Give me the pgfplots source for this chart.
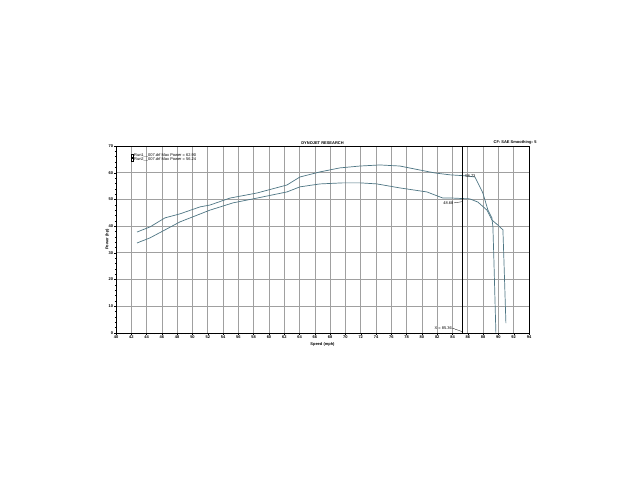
\documentclass[border=0pt]{standalone}
\usepackage{fontspec}
\setmainfont{Liberation Sans}
\usepackage{pgfplots}
\pgfplotsset{compat=1.18}
\definecolor{curve}{RGB}{78,118,132}
\definecolor{gridc}{RGB}{160,160,160}
\newcommand{\tinyfont}{\fontsize{4}{4.6}\selectfont}
\begin{document}
\begin{tikzpicture}[x=1bp,y=1bp]
\fill[white] (0,0) rectangle (640,480);
\useasboundingbox (0,0) rectangle (640,480);
\begin{axis}[
    at={(116bp,147bp)}, anchor=south west,
    scale only axis, width=413bp, height=187bp,
    xmin=40, xmax=94, ymin=0, ymax=70,
    xtick={40,42,...,94}, ytick={0,10,...,70},
    xtick pos=bottom, ytick pos=left,
    minor x tick num=3, minor y tick num=4,
    grid=major, major grid style={gridc, line width=0.7bp},
    axis line style={black, line width=0.8bp},
    tick style={black, line width=0.4bp},
    major tick length=2bp, minor tick length=1.2bp,
    tick align=outside,
    ticklabel style={font=\tinyfont\bfseries, inner sep=0.8bp},
    /pgf/number format/assume math mode=true,
    xlabel={Speed (mph)}, ylabel={Power (hp)},
    label style={font=\tinyfont\bfseries},
    xlabel style={at={(rel axis cs:0.5,0)}, anchor=north, yshift=-6.5bp},
    ylabel style={yshift=-5bp},
    title={DYNOJET RESEARCH},
    title style={font=\tinyfont\bfseries, yshift=-8bp},
    legend style={at={(rel axis cs:0.035,0.965)}, anchor=north west,
        draw=none, fill=none, font=\tinyfont, inner sep=0pt,
        row sep=-1.2bp, nodes={inner sep=0.6bp}},
    legend cell align=left,
    legend image code/.code={\draw[black,line width=0.3bp,fill=white] (0bp,-1.3bp) rectangle (2.6bp,1.3bp);},
    clip=false,
]
% upper run
\addplot[curve, line width=0.7bp] coordinates {
(42.75,37.8) (44.44,39.7) (46.41,43.1) (48.37,44.6) (50.98,47.2)
(52.29,47.9) (54.90,50.5) (58.43,52.4) (62.35,55.4) (64.05,58.4)
(66.67,60.3) (69.28,61.8) (71.90,62.5) (74.51,62.9) (77.12,62.5)
(79.74,61.0) (81.70,59.9) (83.66,59.2) (85.88,58.8) (86.93,58.4)
(87.97,52.4) (88.63,46.0) (89.15,43.1) (89.28,39.7) (89.41,27.3)
(89.67,0)};
\addlegendentry{Run1\_\_007.drf Max Power = 62.90}
% lower run
\addplot[curve, line width=0.7bp] coordinates {
(42.75,33.7) (44.44,35.6) (46.41,38.6) (48.37,41.6) (52.29,46.0)
(55.29,48.7) (58.43,50.5) (62.35,52.8) (64.05,54.7) (66.67,55.8)
(69.67,56.2) (71.90,56.2) (74.12,55.8) (77.12,54.3) (80.65,52.8)
(82.75,50.5) (84.05,50.5) (86.27,50.2) (87.32,49.0) (88.50,46.0)
(89.15,42.3) (89.93,40.4) (90.59,38.6) (90.72,27.3) (90.98,3.7)};
\addlegendentry{Run2\_\_007.drf Max Power = 56.24}
% cursor
\addplot[black, line width=1.1bp, forget plot] coordinates {(85.36,0) (85.36,70)};
\node[font=\tinyfont, anchor=west, inner sep=0.5bp] at (axis cs:85.6,58.8) {58.73};
\node[font=\tinyfont, anchor=east, inner sep=0.5bp] at (axis cs:84.2,48.7) {48.68};
\draw[black, line width=0.3bp] (axis cs:84.2,48.7) -- (axis cs:85.36,49.2);
\node[font=\tinyfont, anchor=east, inner sep=0.5bp] at (axis cs:84.0,1.8) {X = 85.36};
\draw[black, line width=0.3bp] (axis cs:84.0,1.8) -- (axis cs:85.36,0.4);
\node[font=\tinyfont\bfseries, anchor=south east, inner sep=0.5bp] at (rel axis cs:1.02,1.005) {CF: SAE  Smoothing: 5};
\end{axis}
\end{tikzpicture}
\end{document}
